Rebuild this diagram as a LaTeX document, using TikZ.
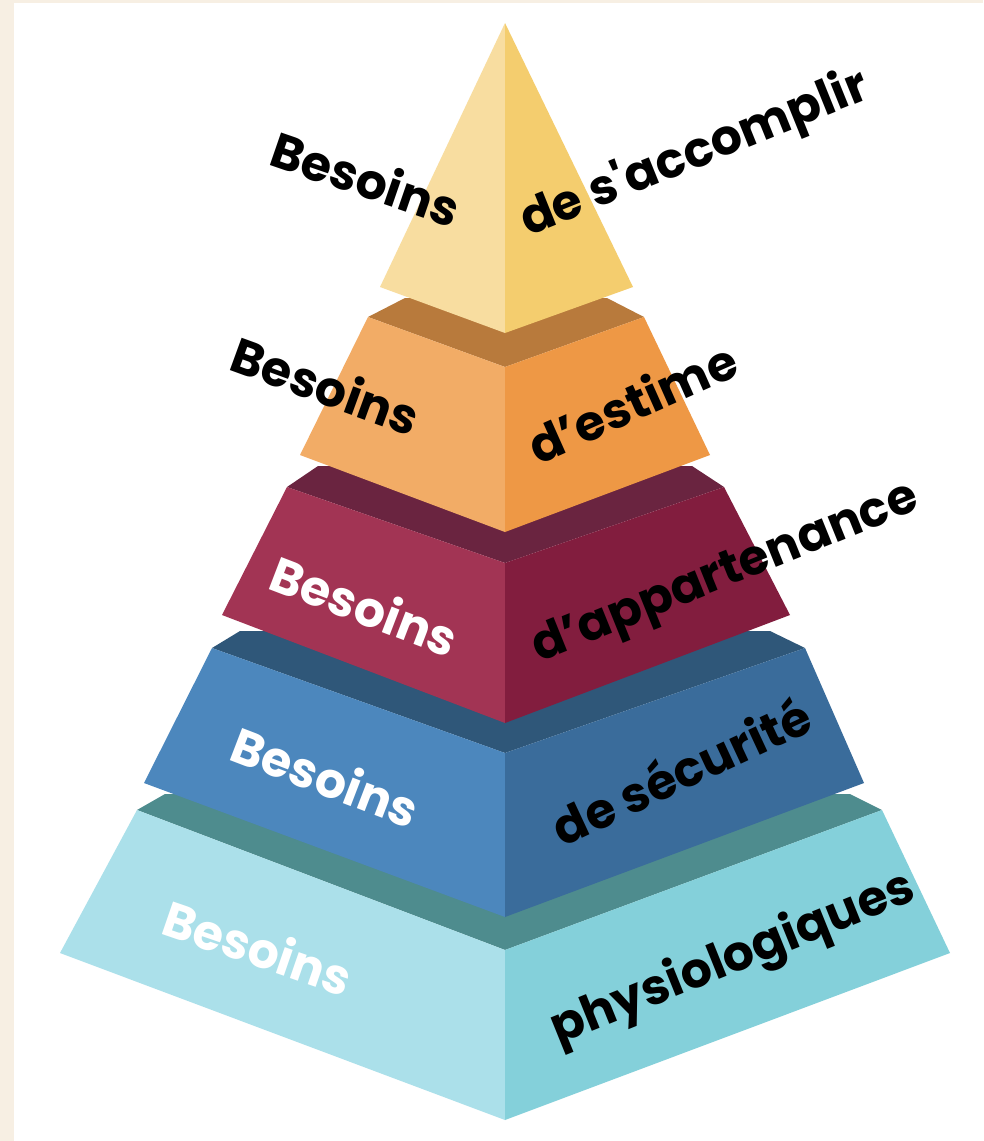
\documentclass[tikz,border=0pt]{standalone}
\usepackage{fontspec}
\setmainfont{Poppins}
\definecolor{fond}{HTML}{F7EFE3}
\definecolor{jauneG}{HTML}{F8DDA0}
\definecolor{jauneD}{HTML}{F4CD6E}
\definecolor{orangeG}{HTML}{F2AC66}
\definecolor{orangeD}{HTML}{EE9845}
\definecolor{orangeH}{HTML}{B87A3C}
\definecolor{bordeauxG}{HTML}{A23454}
\definecolor{bordeauxD}{HTML}{821D3E}
\definecolor{bordeauxH}{HTML}{6A2440}
\definecolor{bleuG}{HTML}{4C87BD}
\definecolor{bleuD}{HTML}{3A6C9B}
\definecolor{bleuH}{HTML}{2F5779}
\definecolor{cielG}{HTML}{ABE0EA}
\definecolor{cielD}{HTML}{84D0DA}
\definecolor{cielH}{HTML}{4E8C8E}
\tikzset{
  etiquette/.style={font=\bfseries\fontsize{49}{52}\selectfont, inner sep=0pt, text=black},
  blanche/.style={etiquette, text=white}
}
\begin{document}
\begin{tikzpicture}[x=1pt,y=-1pt]
            \useasboundingbox (0,0) rectangle (983,1141);
            \fill[fond] (0,0) rectangle (983,1141); % cadre
            \fill[white] (14,3) rectangle (983,1141);
            % niveau 1
            \fill[cielH] (137,810) -- (165,794) -- (850,794) -- (882,810) -- (505,950) -- cycle; % dessus
            \fill[cielG] (137,810) -- (505,950) -- (505,1120) -- (60,953) -- cycle;
            \fill[cielD] (505,950) -- (882,810) -- (950,953) -- (505,1120) -- cycle;
            % niveau 2
            \fill[bleuH] (212,648) -- (240,631) -- (770,631) -- (805,648) -- (505,753) -- cycle;
            \fill[bleuG] (212,648) -- (505,753) -- (505,917) -- (144,783) -- cycle;
            \fill[bleuD] (505,753) -- (805,648) -- (864,783) -- (505,917) -- cycle;
            % niveau 3
            \fill[bordeauxH] (287,487) -- (318,466) -- (692,466) -- (724,487) -- (505,563) -- cycle;
            \fill[bordeauxG] (287,487) -- (505,563) -- (505,723) -- (222,615) -- cycle;
            \fill[bordeauxD] (505,563) -- (724,487) -- (790,615) -- (505,723) -- cycle;
            % niveau 4
            \fill[orangeH] (368,317) -- (405,298) -- (607,298) -- (644,317) -- (505,367) -- cycle;
            \fill[orangeG] (368,317) -- (505,367) -- (505,532) -- (300,455) -- cycle;
            \fill[orangeD] (505,367) -- (644,317) -- (710,455) -- (505,532) -- cycle;
            % sommet
            \fill[jauneG] (505,23) -- (505,333) -- (380,287) -- cycle;
            \fill[jauneD] (505,23) -- (633,287) -- (505,333) -- cycle;
            % textes
            \node[etiquette, rotate=-19] (b5) at (366,178) {Besoins};
            \node[etiquette, rotate=22] (t5) at (695,155) {de s\textquotesingle accomplir};
            \node[etiquette, rotate=-20] (b4) at (326,385) {Besoins};
            \node[etiquette, rotate=24] (t4) at (632,402) {d'estime};
            \node[blanche, rotate=-21] (b3) at (365,605) {Besoins};
            \node[etiquette, rotate=22] (t3) at (726,575) {d'appartenance};
            \node[blanche, rotate=-21] (b2) at (326,776) {Besoins};
            \node[etiquette, rotate=25] (t2) at (681,770) {de sécurité};
            \node[blanche, rotate=-19] (b1) at (258,947) {Besoins};
            \node[etiquette, rotate=22] (t1) at (733,960) {physiologiques};
            \end{tikzpicture}
\end{document}
